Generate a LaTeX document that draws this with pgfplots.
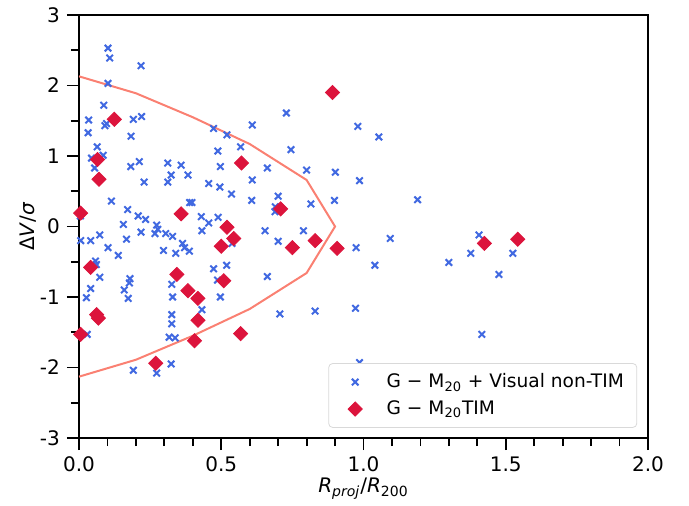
\documentclass[border=0pt]{standalone}
\usepackage{fontspec}
\setmainfont{DejaVu Sans}
\usepackage{pgfplots}
\pgfplotsset{compat=1.18}
\definecolor{royal}{RGB}{65,105,225}
\definecolor{crim}{RGB}{220,20,60}
\definecolor{salm}{RGB}{250,128,114}
% legend image with a fixed width, mark in the middle
\pgfplotsset{marklegend/.style={legend image code/.code={\path (0cm,0cm) (0.6cm,0cm);
    \draw[mark repeat=2,mark phase=2,##1] plot coordinates {(0cm,0cm) (0.3cm,0cm) (0.6cm,0cm)};}}}
\begin{document}
\begin{tikzpicture}
\begin{axis}[
  scale only axis, width=284.5pt, height=211.5pt,
  xmin=0, xmax=2, ymin=-3, ymax=3,
  xtick={0,0.5,1,1.5,2}, xticklabels={0.0,0.5,1.0,1.5,2.0},
  ytick={-3,-2,-1,0,1,2,3}, yticklabels={-3,-2,-1,0,1,2,3},
  minor x tick num=4, minor y tick num=1,
  xtick pos=bottom, ytick pos=left, tick align=outside,
  major tick length=6pt, minor tick length=4pt,
  every tick/.style={black, line width=0.9pt},
  axis line style={line width=1.2pt},
  tick label style={font=\normalsize},
  xlabel={\textit{R}\textsubscript{\textit{proj}}/\textit{R}\textsubscript{200}},
  xlabel style={yshift=4pt},
  ylabel={Δ\textit{V}/\textit{σ}},
  ylabel style={yshift=-5pt},
  legend style={at={(0.981,0.024)}, anchor=south east, draw=black!15,
                rounded corners=2pt, fill=white,
                font=\fontsize{9.3}{11}\selectfont,
                row sep=1pt, inner xsep=4.5pt, inner ysep=3pt,
                /tikz/every odd column/.style={column sep=5pt}},
  legend cell align=left,
]
% boundary curve
\addplot[salm, line width=1pt, forget plot] coordinates {
  (0,2.13) (0.2,1.89) (0.4,1.55) (0.6,1.17) (0.8,0.66) (0.9,0)
  (0.8,-0.66) (0.6,-1.17) (0.4,-1.55) (0.2,-1.89) (0,-2.13)};
% G-M20 + visual non-TIM
\addplot[only marks, mark=x, mark size=2.3pt, royal, mark options={line width=1pt}, marklegend] coordinates {
  (0.102,2.53) (0.108,2.39) (0.218,2.28) (0.102,2.03) (0.087,1.72) (0.034,1.51)
  (0.032,1.33) (0.097,1.46) (0.091,1.43) (0.191,1.52) (0.220,1.56) (0.183,1.28)
  (0.064,1.13) (0.085,1.01) (0.044,0.97) (0.055,0.83) (0.182,0.85) (0.212,0.92)
  (0.312,0.90) (0.359,0.87) (0.473,1.39) (0.520,1.30) (0.568,1.13) (0.488,1.07)
  (0.609,1.44) (0.497,0.85) (0.662,0.83) (0.229,0.63) (0.324,0.73) (0.312,0.63)
  (0.383,0.73) (0.456,0.61) (0.495,0.56) (0.536,0.46) (0.609,0.66) (0.607,0.37)
  (0.114,0.36) (0.171,0.24) (0.208,0.15) (0.234,0.10) (0.156,0.03) (0.218,-0.08)
  (0.273,0.02) (0.277,-0.04) (0.267,-0.10) (0.305,-0.10) (0.329,-0.14) (0.389,0.34)
  (0.397,0.34) (0.430,0.14) (0.456,0.05) (0.489,0.13) (0.432,-0.06) (0.654,-0.06)
  (0.538,-0.24) (0.006,-0.20) (0.041,-0.20) (0.073,-0.12) (0.102,-0.30) (0.138,-0.41)
  (0.167,-0.18) (0.297,-0.34) (0.364,-0.24) (0.371,-0.30) (0.340,-0.38) (0.388,-0.35)
  (0.058,-0.49) (0.061,-0.54) (0.073,-0.72) (0.041,-0.88) (0.026,-1.01) (0.179,-0.74)
  (0.177,-0.80) (0.159,-0.90) (0.173,-1.02) (0.326,-0.82) (0.329,-1.00) (0.326,-1.25)
  (0.326,-1.38) (0.432,-1.18) (0.473,-0.60) (0.519,-0.55) (0.487,-0.76) (0.497,-1.00)
  (0.662,-0.71) (0.029,-1.53) (0.317,-1.57) (0.338,-1.58) (0.191,-2.04) (0.273,-2.08)
  (0.324,-1.95) (0.729,1.61) (0.980,1.42) (1.054,1.27) (0.745,1.09) (0.800,0.80)
  (0.901,0.77) (0.986,0.65) (0.700,0.43) (0.690,0.28) (0.689,0.21) (0.815,0.32)
  (0.898,0.37) (1.190,0.38) (0.789,-0.06) (0.700,-0.21) (0.974,-0.30) (1.094,-0.17)
  (1.040,-0.55) (1.300,-0.51) (0.706,-1.24) (0.830,-1.20) (0.972,-1.16) (1.406,-0.12)
  (1.377,-0.38) (1.525,-0.38) (1.476,-0.68) (1.416,-1.53) (0.986,-1.93) (0.005,0.15)};
\addlegendentry{G − M\textsubscript{20} + Visual non-TIM}
% G-M20 TIM
\addplot[only marks, mark=square*, mark size=2.5pt, crim, mark options={rotate=45}, marklegend] coordinates {
  (0.124,1.52) (0.065,0.95) (0.571,0.90) (0.070,0.67) (0.006,0.19) (0.359,0.18)
  (0.520,-0.01) (0.544,-0.17) (0.500,-0.28) (0.041,-0.58) (0.344,-0.68) (0.509,-0.77)
  (0.383,-0.91) (0.418,-1.02) (0.062,-1.25) (0.068,-1.30) (0.418,-1.33) (0.006,-1.53)
  (0.568,-1.52) (0.406,-1.62) (0.270,-1.94) (0.891,1.90) (0.709,0.25) (0.750,-0.30)
  (0.830,-0.20) (0.907,-0.31) (1.425,-0.24) (1.542,-0.18)};
\addlegendentry{G − M\textsubscript{20}TIM}
\end{axis}
\path (current axis.south west) ++(-39.5pt,-30pt) rectangle ++(344.5pt,249pt);
\end{tikzpicture}
\end{document}
